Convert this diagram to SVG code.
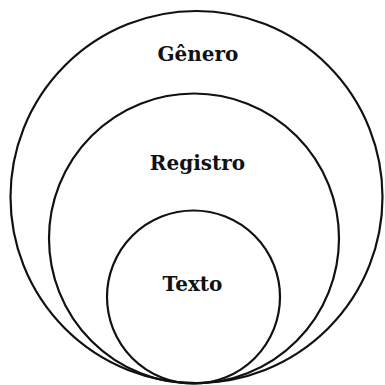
<svg xmlns="http://www.w3.org/2000/svg" width="385" height="385" viewBox="0 0 385 385">
<style>
.c{fill:none;stroke:#111;stroke-width:2.2}
.t{font-family:"DejaVu Serif",serif;font-weight:bold;font-size:20px;fill:#111;text-anchor:middle}
</style>
<rect width="385" height="385" fill="#fff"/>
<g id="genero"><circle class="c" cx="196.5" cy="197" r="186"/><text class="t" x="198" y="61">Gênero</text></g>
<g id="registro"><circle class="c" cx="194" cy="238.5" r="145"/><text class="t" x="197.5" y="170">Registro</text></g>
<g id="texto"><circle class="c" cx="193.5" cy="297" r="86.5"/><text class="t" x="192.5" y="291">Texto</text></g>
<g id="connectors"/>
</svg>
